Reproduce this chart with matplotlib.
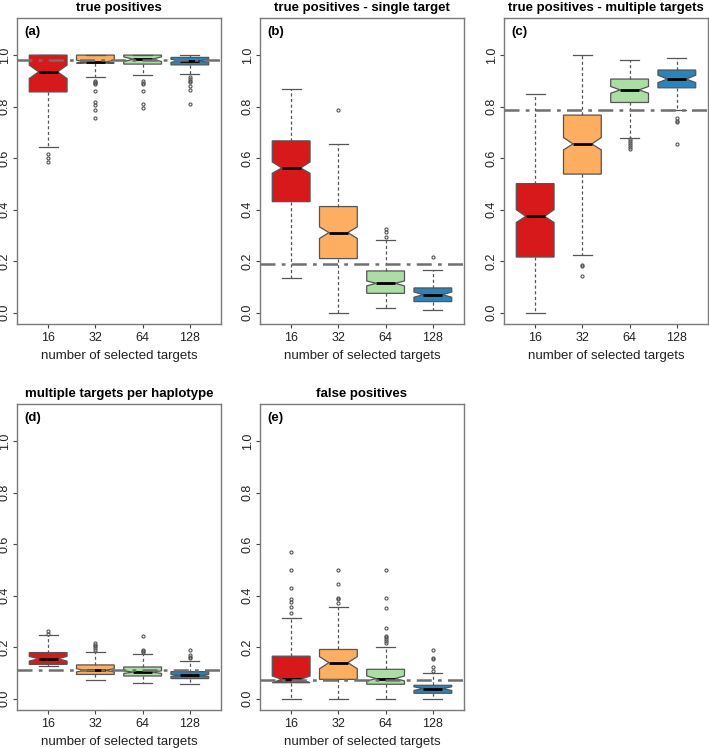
import numpy as np
import matplotlib
matplotlib.use("Agg")
import matplotlib.pyplot as plt

plt.rcParams['font.family'] = ['Liberation Sans', 'DejaVu Sans']

groups = ["16", "32", "64", "128"]
colors = ["#D7191C", "#FDAE61", "#ABDDA4", "#2B83BA"]

# per box: whislo, q1, med, q3, whishi, cilo, cihi
tp_stats = [(0.645, 0.857, 0.935, 1.0, 1.0, 0.909, 0.961),
            (0.916, 0.969, 0.972, 1.0, 1.0, 0.969, 0.980),
            (0.923, 0.965, 0.984, 1.0, 1.0, 0.975, 0.993),
            (0.926, 0.962, 0.978, 0.991, 1.0, 0.972, 0.984)]
tp_fliers = [[0.615, 0.600, 0.583],
             [0.900, 0.895, 0.890, 0.887, 0.859, 0.816, 0.805, 0.786, 0.757],
             [0.900, 0.892, 0.888, 0.859, 0.810, 0.795],
             [0.913, 0.907, 0.900, 0.894, 0.881, 0.864, 0.810]]
tp_ref = 0.98

single_stats = [(0.133, 0.431, 0.562, 0.667, 0.868, 0.541, 0.585),
                (0.0, 0.210, 0.311, 0.412, 0.655, 0.288, 0.333),
                (0.017, 0.075, 0.114, 0.162, 0.281, 0.104, 0.123),
                (0.010, 0.043, 0.070, 0.096, 0.165, 0.060, 0.080)]
single_fliers = [[], [0.785], [0.295, 0.313, 0.326], [0.218]]
single_ref = 0.19

multi_stats = [(0.0, 0.216, 0.374, 0.501, 0.847, 0.350, 0.400),
               (0.222, 0.538, 0.655, 0.767, 1.0, 0.632, 0.680),
               (0.678, 0.816, 0.865, 0.907, 0.982, 0.852, 0.878),
               (0.785, 0.873, 0.907, 0.942, 0.990, 0.893, 0.922)]
multi_fliers = [[], [0.185, 0.180, 0.144],
                [0.673, 0.665, 0.657, 0.650, 0.642, 0.634],
                [0.756, 0.745, 0.740, 0.656]]
multi_ref = 0.786

hap_stats = [(0.127, 0.133, 0.155, 0.179, 0.246, 0.146, 0.164),
             (0.071, 0.094, 0.110, 0.131, 0.181, 0.104, 0.116),
             (0.061, 0.088, 0.103, 0.123, 0.172, 0.098, 0.108),
             (0.056, 0.078, 0.090, 0.105, 0.146, 0.086, 0.094)]
hap_fliers = [[0.263, 0.250],
              [0.217, 0.210, 0.203, 0.197, 0.190],
              [0.242, 0.190, 0.185, 0.182],
              [0.188, 0.168, 0.162, 0.156]]
hap_ref = 0.111

fp_stats = [(0.0, 0.062, 0.075, 0.165, 0.313, 0.062, 0.088),
            (0.0, 0.075, 0.140, 0.191, 0.357, 0.116, 0.163),
            (0.0, 0.056, 0.078, 0.114, 0.202, 0.069, 0.088),
            (0.0, 0.021, 0.039, 0.052, 0.098, 0.032, 0.046)]
fp_fliers = [[0.334, 0.357, 0.377, 0.388, 0.431, 0.500, 0.571],
             [0.372, 0.388, 0.392, 0.446, 0.500],
             [0.217, 0.225, 0.230, 0.240, 0.245, 0.275, 0.352, 0.392, 0.500],
             [0.109, 0.123, 0.153, 0.158, 0.189]]
fp_ref = 0.073

panels = [("true positives", "(a)", tp_stats, tp_fliers, tp_ref),
          ("true positives - single target", "(b)", single_stats, single_fliers, single_ref),
          ("true positives - multiple targets", "(c)", multi_stats, multi_fliers, multi_ref),
          ("multiple targets per haplotype", "(d)", hap_stats, hap_fliers, hap_ref),
          ("false positives", "(e)", fp_stats, fp_fliers, fp_ref)]

W, H = 709, 748
fig = plt.figure(figsize=(W / 100, H / 100), dpi=100)
lefts = [17, 260, 504]
tops = [18, 404]
frame = "#7a7a7a"

for i, (title, tag, stats, fliers, ref) in enumerate(panels):
    l = lefts[i % 3]
    t = tops[i // 3]
    ax = fig.add_axes([l / W, 1 - (t + 306) / H, 204 / W, 306 / H])
    bstats = []
    for s, f in zip(stats, fliers):
        bstats.append(dict(whislo=s[0], q1=s[1], med=s[2], q3=s[3], whishi=s[4],
                           cilo=s[5], cihi=s[6], fliers=f))
    bp = ax.bxp(bstats, positions=[1, 2, 3, 4], widths=0.8, shownotches=True,
                patch_artist=True,
                boxprops=dict(edgecolor="#555555", linewidth=0.9),
                whiskerprops=dict(color="#555555", linestyle=(0, (2.5, 2)), linewidth=0.9),
                capprops=dict(color="#555555", linewidth=0.9),
                medianprops=dict(color="black", linewidth=2),
                flierprops=dict(marker="o", markersize=2.2, markerfacecolor="none",
                                markeredgecolor="#555555", markeredgewidth=0.8))
    for patch, c in zip(bp["boxes"], colors):
        patch.set_facecolor(c)
    ax.axhline(ref, color="#707070", linestyle=(0, (6, 2.5, 1.5, 2.5)), linewidth=1.8, zorder=5)
    ax.set_xlim(0.34, 4.66)
    ax.set_ylim(-0.044, 1.144)
    ax.set_xticks([1, 2, 3, 4])
    ax.set_xticklabels(groups)
    ax.set_yticks([0.0, 0.2, 0.4, 0.6, 0.8, 1.0])
    ax.set_yticklabels(["0.0", "0.2", "0.4", "0.6", "0.8", "1.0"], rotation=90, va="center")
    ax.tick_params(colors="#444444", labelcolor="#222222", labelsize=9, length=3, width=0.8)
    ax.tick_params(axis="y", pad=1.5)
    ax.tick_params(axis="x", pad=3)
    for sp in ax.spines.values():
        sp.set_color(frame)
        sp.set_linewidth(1)
    ax.set_title(title, fontsize=9.5, fontweight="bold", pad=5)
    ax.set_xlabel("number of selected targets", fontsize=9.5, color="#222222", labelpad=4)
    ax.text(0.035, 0.975, tag, transform=ax.transAxes, fontsize=9.5, fontweight="bold",
            ha="left", va="top")

fig.savefig("out.png", dpi=100)
